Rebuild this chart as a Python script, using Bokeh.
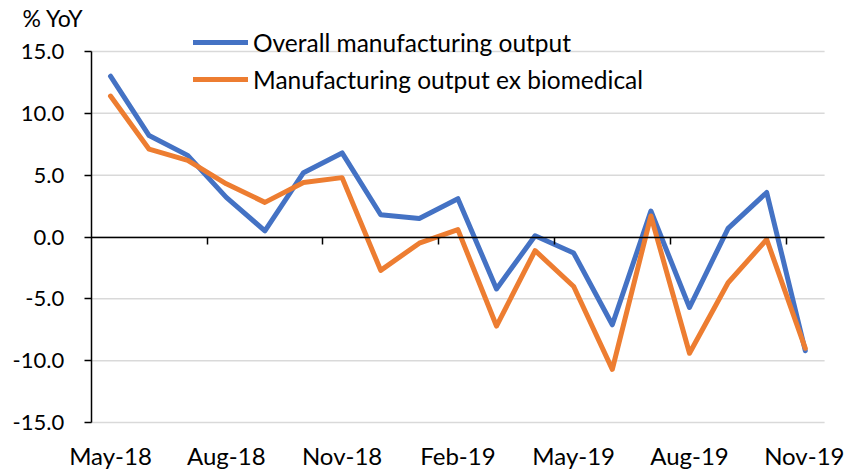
from bokeh.plotting import figure
from bokeh.models import (Range1d, FixedTicker, NumeralTickFormatter, LinearAxis, Label,
                          Legend, LegendItem)
from bokeh.embed import file_html
from bokeh.resources import INLINE

months = ["May-18", "Jun-18", "Jul-18", "Aug-18", "Sep-18", "Oct-18", "Nov-18", "Dec-18",
          "Jan-19", "Feb-19", "Mar-19", "Apr-19", "May-19", "Jun-19", "Jul-19", "Aug-19",
          "Sep-19", "Oct-19", "Nov-19"]
overall = [13.0, 8.2, 6.6, 3.2, 0.5, 5.2, 6.8, 1.8, 1.5, 3.1, -4.2, 0.1, -1.3, -7.1,
           2.1, -5.7, 0.7, 3.6, -9.2]
ex_biomedical = [11.4, 7.1, 6.2, 4.3, 2.8, 4.4, 4.8, -2.7, -0.5, 0.6, -7.2, -1.1, -4.0,
                 -10.7, 1.7, -9.4, -3.7, -0.2, -9.0]
y_ticks = [-15, -10, -5, 0, 5, 10, 15]
label_step = 3
series_names = ["Overall manufacturing output", "Manufacturing output ex biomedical"]
series_colors = ["#4472C4", "#ED7D31"]
unit_label = "% YoY"

FONT = "Lato"
W, H = 844, 471
n = len(months)
xs = list(range(n))
ymin, ymax = min(y_ticks), max(y_ticks)

# layout: plot area from px 90.7 to 824 horizontally, value 15 at px 51 and -15 at px 422
cat_w = 38.6
left_px = 90.7
px_per_unit = (422 - 51) / (ymax - ymin)
zero_px = 236.5
x_lo = -0.5 - left_px / cat_w
x_hi = x_lo + W / cat_w
y_hi = zero_px / px_per_unit
y_lo = y_hi - H / px_per_unit

p = figure(width=W, height=H, output_backend="svg", toolbar_location=None,
           x_range=Range1d(x_lo, x_hi), y_range=Range1d(y_lo, y_hi),
           x_axis_type=None, y_axis_type=None,
           min_border_left=0, min_border_right=0, min_border_top=0, min_border_bottom=0)
p.outline_line_color = None
p.background_fill_color = "white"
p.border_fill_color = "white"

x_start, x_end = -0.5, n - 0.5

# horizontal gridlines across the category span
p.segment(x0=[x_start] * len(y_ticks), x1=[x_end] * len(y_ticks), y0=y_ticks, y1=y_ticks,
          line_color="#D9D9D9", line_width=1.5)

# value axis
ya = LinearAxis(fixed_location=x_start, bounds=(ymin, ymax),
                ticker=FixedTicker(ticks=y_ticks),
                formatter=NumeralTickFormatter(format="0.0"))
ya.axis_line_color = "black"
ya.axis_line_width = 1.5
ya.major_tick_line_color = "black"
ya.major_tick_line_width = 1.5
ya.major_tick_out = 7
ya.major_tick_in = 0
ya.minor_tick_line_color = None
ya.major_label_standoff = 20
ya.major_label_text_font = FONT
ya.major_label_text_font_size = "22px"
ya.major_label_text_color = "black"
p.add_layout(ya, "left")

# category labels at the bottom of the plot
label_pos = xs[::label_step]
xa = LinearAxis(fixed_location=ymin, ticker=FixedTicker(ticks=label_pos))
xa.major_label_overrides = {i: months[i] for i in label_pos}
xa.axis_line_color = None
xa.major_tick_line_color = None
xa.minor_tick_line_color = None
xa.major_tick_out = 0
xa.major_tick_in = 0
xa.major_label_standoff = 18
xa.major_label_text_font = FONT
xa.major_label_text_font_size = "24px"
xa.major_label_text_color = "black"
p.add_layout(xa, "below")

# category axis line crossing at zero, tick marks between quarter groups
bounds = [i - 0.5 for i in range(label_step, n, label_step)]
za = LinearAxis(fixed_location=0, bounds=(x_start, x_end), ticker=FixedTicker(ticks=bounds))
za.major_label_overrides = {b: "" for b in bounds}
za.major_label_text_font_size = "0px"
za.axis_line_color = "black"
za.axis_line_width = 1.5
za.major_tick_line_color = "black"
za.major_tick_line_width = 1.5
za.major_tick_out = 7
za.major_tick_in = 0
za.minor_tick_line_color = None
p.add_layout(za, "below")

# series
r1 = p.line(xs, overall, line_color=series_colors[0], line_width=5,
            line_join="round", line_cap="round")
r2 = p.line(xs, ex_biomedical, line_color=series_colors[1], line_width=5,
            line_join="round", line_cap="round")

legend = Legend(items=[LegendItem(label=series_names[0], renderers=[r1]),
                       LegendItem(label=series_names[1], renderers=[r2])],
                location=(193, 377), orientation="vertical",
                padding=0, margin=0, spacing=7, glyph_width=55, glyph_height=30,
                label_height=30, label_standoff=5,
                border_line_color=None, background_fill_alpha=0,
                label_text_font=FONT, label_text_font_size="24.5px",
                label_text_color="black")
p.add_layout(legend, "center")

p.add_layout(Label(x=x_start - (left_px - 22) / cat_w, y=y_hi - 3 / px_per_unit,
                   text=unit_label, text_font=FONT, text_font_size="23px",
                   text_color="black", text_baseline="top", text_align="left"))

open("out.html", "w").write(file_html(p, INLINE))
